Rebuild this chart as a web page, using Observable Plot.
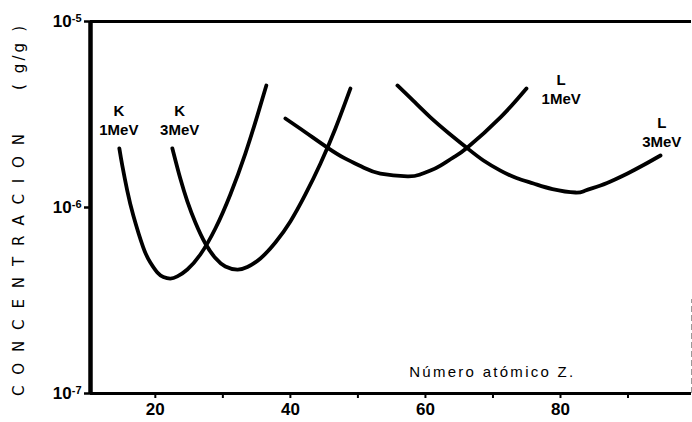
<!DOCTYPE html>
<html><head><meta charset="utf-8">
<script src="https://cdn.jsdelivr.net/npm/d3@7"></script>
<script src="https://cdn.jsdelivr.net/npm/@observablehq/plot@0.6"></script>
<style>
html,body{margin:0;padding:0;background:#fff;}
#chart svg{display:block;}
g[aria-label="x-axis tick label"]{font-size:17px;font-weight:bold;}
g[aria-label="y-axis tick label"]{font-size:17px;font-weight:bold;}
</style></head><body><div id="chart"></div>
<script>
// Series: atomic number Z vs concentration (g/g)
const seriesNames = ["K 1MeV", "K 3MeV", "L 1MeV", "L 3MeV"];

const k1Z = [14.67, 15.11, 15.85, 16.74, 18.22, 19.26, 20.30, 21.19, 22.22, 23.26, 24.74, 26.67, 28.89, 31.11, 33.33, 35.11, 36.44];
const k1C = [2.08e-6, 1.68e-6, 1.23e-6, 9.06e-7, 6.09e-7, 5.06e-7, 4.47e-7, 4.23e-7, 4.15e-7, 4.26e-7, 4.64e-7, 5.59e-7, 7.71e-7, 1.175e-6, 1.95e-6, 3.12e-6, 4.53e-6];

const k3Z = [22.52, 23.70, 24.74, 25.93, 27.41, 28.89, 30.37, 32.15, 33.63, 35.56, 37.78, 40.00, 42.22, 44.44, 46.67, 48.89];
const k3C = [2.08e-6, 1.43e-6, 1.08e-6, 8.31e-7, 6.40e-7, 5.35e-7, 4.82e-7, 4.64e-7, 4.79e-7, 5.32e-7, 6.48e-7, 8.41e-7, 1.175e-6, 1.72e-6, 2.66e-6, 4.36e-6];

const l1Z = [39.26, 42.22, 45.48, 48.15, 50.81, 53.33, 57.33, 59.11, 60.74, 62.22, 64.15, 66.22, 71.11, 74.96];
const l1C = [3.01e-6, 2.54e-6, 2.10e-6, 1.83e-6, 1.64e-6, 1.52e-6, 1.47e-6, 1.50e-6, 1.58e-6, 1.68e-6, 1.86e-6, 2.10e-6, 3.05e-6, 4.36e-6];

const l3Z = [55.85, 58.22, 60.74, 63.41, 66.22, 68.59, 71.11, 73.48, 76.00, 78.81, 82.22, 83.70, 85.93, 88.15, 89.93, 92.30, 94.81];
const l3C = [4.53e-6, 3.74e-6, 3.05e-6, 2.515e-6, 2.08e-6, 1.79e-6, 1.58e-6, 1.44e-6, 1.346e-6, 1.257e-6, 1.204e-6, 1.234e-6, 1.313e-6, 1.42e-6, 1.524e-6, 1.692e-6, 1.904e-6];

// Curve labels (anchored in data units)
const labelText = ["K\n1MeV", "K\n3MeV", "L\n1MeV", "L\n3MeV"];
const labelZ = [14.6, 23.6, 80.1, 95.0];
const labelC = [2.97e-6, 2.97e-6, 4.39e-6, 2.56e-6];

// Axes
const xDomain = [10.4, 99.4];
const yDomain = [1e-7, 1e-5];
const xTicks = [20, 30, 40, 50, 60, 70, 80, 90];
const xTickLabels = ["20", "", "40", "", "60", "", "80", ""];
const yTicks = [1e-7, 1e-6, 1e-5];
const yTickLabels = ["10^-7", "10^-6", "10^-5"];
const xTitle = "Número atómico Z.";
const xTitleZ = 57.6;
const xTitleC = 1.30e-7;
const yTitle = "CONCENTRACION";
const yUnit = "( g/g )";

const curves = [[k1Z, k1C], [k3Z, k3C], [l1Z, l1C], [l3Z, l3C]];
const rows = [];
curves.forEach(([zs, cs], i) => zs.forEach((z, j) => rows.push({series: seriesNames[i], z, c: cs[j]})));
const labels = labelText.map((t, i) => ({t, z: labelZ[i], c: labelC[i]}));

const chart = Plot.plot({
  width: 692,
  height: 422,
  marginLeft: 90,
  marginRight: 1,
  marginTop: 21,
  marginBottom: 29,
  style: {fontFamily: "'Liberation Sans', Arial, sans-serif", background: "white", color: "black"},
  x: {domain: xDomain, axis: null},
  y: {type: "log", domain: yDomain, axis: null},
  marks: [
    Plot.ruleX([xDomain[1]], {y1: 1e-7, y2: 3.2e-7, stroke: "#999", strokeWidth: 1, strokeDasharray: "6,3"}),
    Plot.axisX({ticks: xTicks, tickSize: 5, tickPadding: 4, strokeWidth: 2,
      tickFormat: (d) => xTickLabels[xTicks.indexOf(d)], label: null}),
    Plot.axisY({ticks: yTicks, tickSize: 6, tickPadding: 3, strokeWidth: 2.5,
      tickFormat: (d) => yTickLabels[yTicks.indexOf(d)], label: null}),
    Plot.ruleY([yDomain[1]], {strokeWidth: 3}),
    Plot.ruleY([yDomain[0]], {strokeWidth: 3}),
    Plot.ruleX([xDomain[0]], {strokeWidth: 4.5}),
    Plot.line(rows, {x: "z", y: "c", z: "series", curve: "natural", stroke: "black",
      strokeWidth: 3.8, strokeLinecap: "round", strokeLinejoin: "round"}),
    Plot.text(labels, {x: "z", y: "c", text: "t", fontSize: 15, fontWeight: "bold",
      lineHeight: 1.27, lineAnchor: "middle", fill: "black"}),
    Plot.text([xTitle], {x: () => xTitleZ, y: () => xTitleC, text: (d) => d, textAnchor: "start",
      fontSize: 15, fill: "black"})
  ]
});

document.getElementById("chart").appendChild(chart);
const svg = d3.select(chart);

// superscript exponents on y tick labels
svg.selectAll('g[aria-label="y-axis tick label"] text').each(function () {
  const t = d3.select(this);
  const s = t.text();
  const [base, exp] = s.split("^");
  t.text(null);
  t.append("tspan").text(base);
  t.append("tspan").attr("dy", "-0.45em").attr("font-size", "11px").text(exp);
});

// spread the x title
svg.selectAll("text").filter(function () { return d3.select(this).text() === xTitle; })
  .attr("textLength", 164).attr("lengthAdjust", "spacing");

// rotated y title with wide letter spacing
svg.append("text")
  .attr("transform", "translate(19,265) rotate(-90)")
  .attr("text-anchor", "middle")
  .attr("dy", "0.36em")
  .attr("textLength", 262).attr("lengthAdjust", "spacing")
  .style("font-family", "'DejaVu Sans', sans-serif").style("font-size", "15px")
  .attr("fill", "black")
  .text(yTitle);
svg.append("text")
  .attr("transform", "translate(19,58) rotate(-90)")
  .attr("text-anchor", "middle")
  .attr("dy", "0.36em")
  .attr("textLength", 64).attr("lengthAdjust", "spacing")
  .style("font-family", "'DejaVu Sans', sans-serif").style("font-size", "15px")
  .attr("fill", "black")
  .text(yUnit);
</script></body></html>
